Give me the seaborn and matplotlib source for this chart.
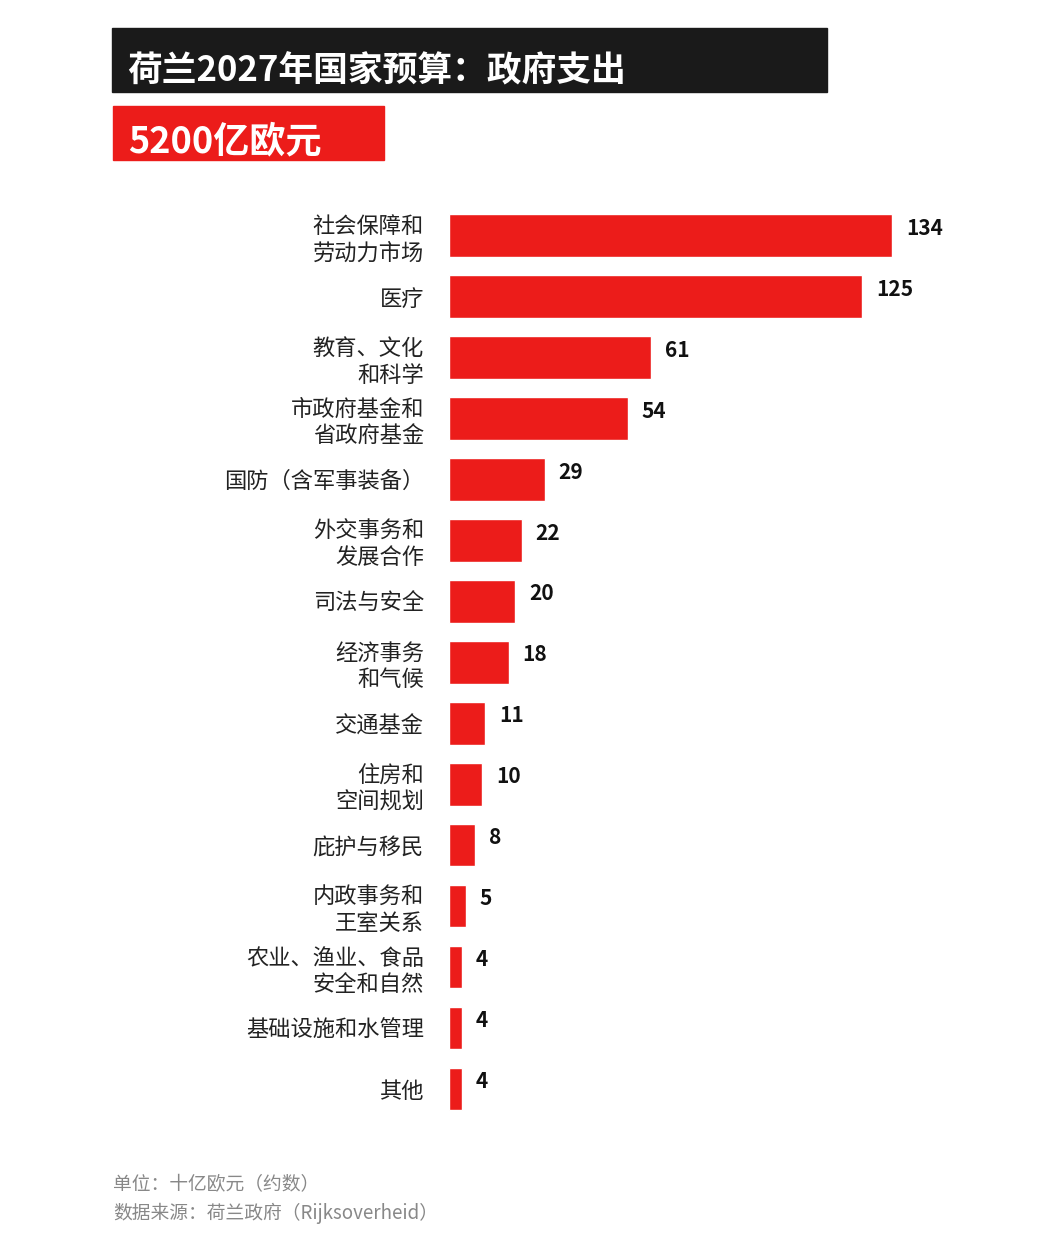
import matplotlib
matplotlib.use("Agg")
import matplotlib.pyplot as plt
import seaborn as sns
import pandas as pd
from matplotlib.patches import Rectangle

categories = ["社会保障和\n劳动力市场", "医疗", "教育、文化\n和科学", "市政府基金和\n省政府基金",
              "国防（含军事装备）", "外交事务和\n发展合作", "司法与安全", "经济事务\n和气候",
              "交通基金", "住房和\n空间规划", "庇护与移民", "内政事务和\n王室关系",
              "农业、渔业、食品\n安全和自然", "基础设施和水管理", "其他"]
values = [134, 125, 61, 54, 29, 22, 20, 18, 11, 10, 8, 5, 4, 4, 4]
title = "荷兰2027年国家预算：政府支出"
subtitle = "5200亿欧元"
notes = ["单位：十亿欧元（约数）", "数据来源：荷兰政府（Rijksoverheid）"]

sns.set_style("white")
plt.rcParams['font.family'] = ['Noto Sans CJK SC', 'DejaVu Sans']

W, H = 1062, 1237
fig = plt.figure(figsize=(W / 100, H / 100), dpi=100)
ax = fig.add_axes([449 / W, 1 - 1119.5 / H, 496 / W, (1119.5 - 205) / H])

df = pd.DataFrame({"cat": categories, "val": values})
sns.barplot(data=df, x="val", y="cat", orient="h", color="#ec1c1a", saturation=1,
            width=0.7, ax=ax)
ax.set_xlim(0, 150)
ax.set_ylim(14.5, -0.5)
ax.set_xlabel("")
ax.set_ylabel("")
ax.set_xticks([])
ax.tick_params(axis="y", length=0, pad=18, labelsize=16, labelcolor="#222222")
for s in ax.spines.values():
    s.set_visible(False)
for i, v in enumerate(values):
    ax.text(v + 4.2, i - 0.12, str(v), ha="left", va="center", fontsize=15,
            fontweight="bold", color="#111111")

# title boxes
fig.patches.append(Rectangle((112 / W, 1 - 92 / H), 715 / W, 64 / H,
                             transform=fig.transFigure, color="#1a1a1a", zorder=0))
fig.text(127 / W, 1 - 71 / H, title, color="white", fontsize=25, fontweight="bold",
         va="center", ha="left")
fig.patches.append(Rectangle((113 / W, 1 - 160 / H), 271 / W, 54 / H,
                             transform=fig.transFigure, color="#ec1c1a", zorder=0))
fig.text(128 / W, 1 - 142 / H, subtitle, color="white", fontsize=26, fontweight="bold",
         va="center", ha="left")

fig.text(113 / W, 1 - 1185 / H, notes[0], color="#888888", fontsize=13.5, va="center")
fig.text(113 / W, 1 - 1213 / H, notes[1], color="#888888", fontsize=13.5, va="center")

fig.savefig("out.png", dpi=100, facecolor="white")
